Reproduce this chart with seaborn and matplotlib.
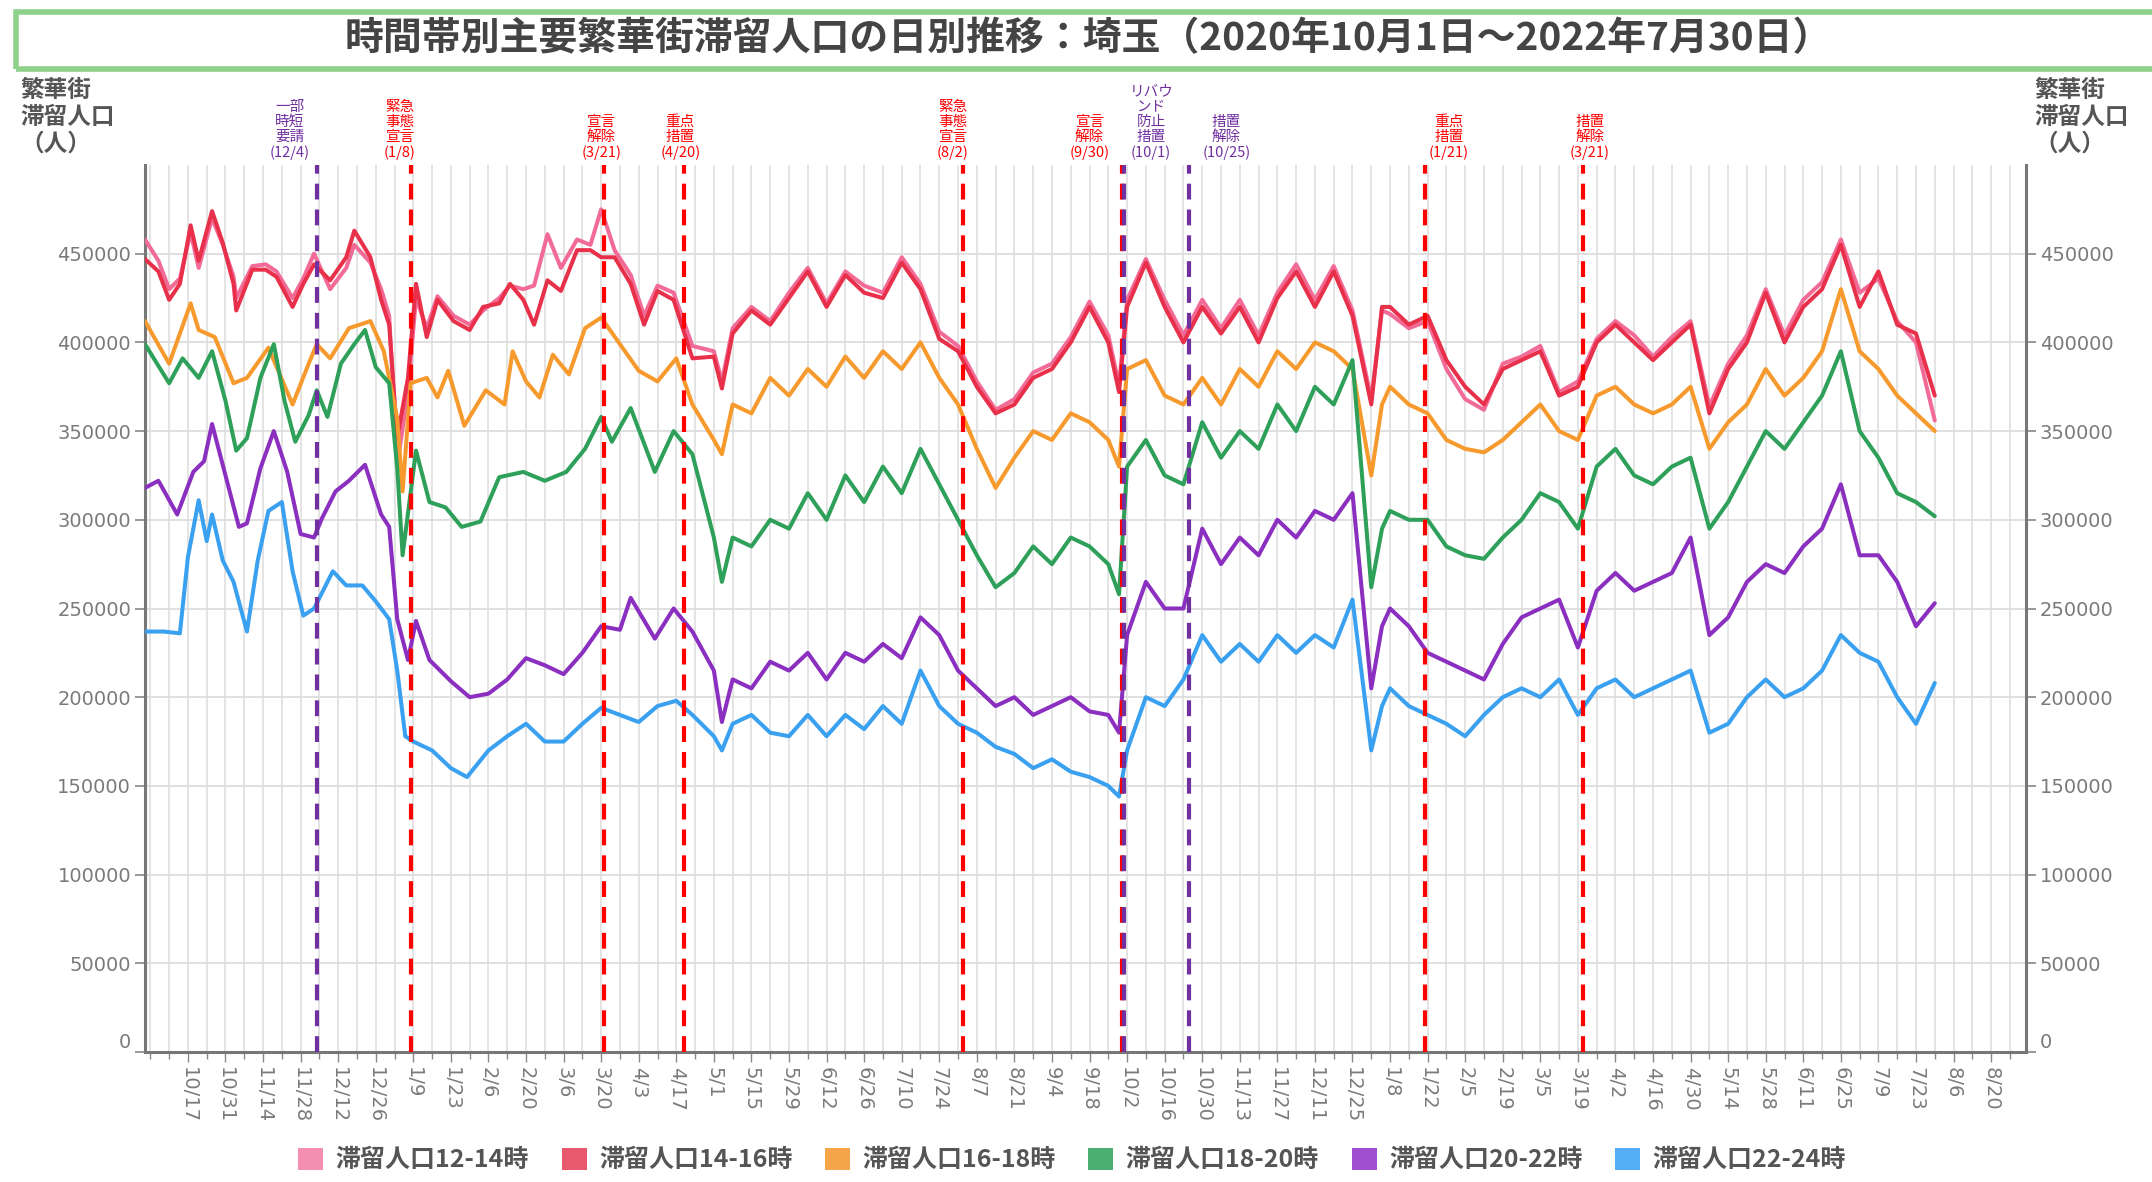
import pandas as pd
import matplotlib
matplotlib.use('Agg')
import matplotlib.pyplot as plt
import matplotlib.transforms as mtransforms
from matplotlib.patches import Rectangle, Patch
import seaborn as sns

sns.set_theme(style="white")
plt.rcParams['font.family'] = ['Noto Sans CJK JP', 'DejaVu Sans']

# 日付は 2020/10/1 からの経過日数、値は千人単位
start = pd.Timestamp('2020-10-01')

# 2021/5/1 以降は週ごと（土曜）に読み取った値
late_days = [212, 215, 219, 226, 233, 240, 247, 254, 261, 268, 275, 282, 289, 296, 303, 310, 317, 324,
             331, 338, 345, 352, 359, 363, 366, 373, 380, 387, 394, 401, 408, 415, 422, 429, 436, 443,
             450, 457, 461, 464, 471, 478, 485, 492, 499, 506, 513, 520, 527, 534, 541, 548, 555, 562,
             569, 576, 583, 590, 597, 604, 611, 618, 625, 632, 639, 646, 653, 660, 667]

pink_days = [0, 5, 9, 13, 17, 20, 25, 29, 33, 34, 40, 45, 49, 55, 59, 63, 69, 75, 78, 84, 88, 91, 94, 98,
             101, 105, 109, 115, 121, 126, 132, 136, 141, 145, 150, 155, 161, 166, 170, 175, 181, 186, 191,
             197, 204] + late_days
pink_vals = [458, 446, 430, 436, 462, 442, 470, 455, 437, 425, 443, 444, 440, 425, 436, 450, 430, 442, 455, 445,
             430, 415, 331, 372, 425, 408, 426, 415, 410, 418, 425, 432, 430, 432, 461, 442, 458, 455, 475, 452,
             438, 415, 432, 428, 398,
             395, 378, 408, 420, 412, 428, 442, 422, 440, 432, 428, 448, 433, 406, 398, 378, 362, 368,
             383, 388, 403, 423, 404, 376, 424, 447, 424, 404, 424, 408, 424, 404, 428, 444, 424, 443,
             418, 368, 418, 416, 408, 412, 385, 368, 362, 388, 392, 398, 372, 378, 402, 412, 404, 392,
             403, 412, 364, 388, 404, 430, 404, 424, 434, 458, 428, 436, 412, 400, 356]

red_days = [0, 5, 9, 13, 17, 20, 25, 29, 33, 34, 40, 45, 49, 55, 59, 63, 69, 75, 78, 84, 88, 91, 94, 98,
            101, 105, 109, 115, 121, 126, 132, 136, 141, 145, 150, 155, 161, 166, 170, 175, 181, 186, 191,
            197, 204] + late_days
red_vals = [447, 440, 424, 433, 466, 446, 474, 456, 433, 418, 441, 441, 437, 420, 433, 444, 435, 448, 463, 448,
            424, 410, 346, 380, 433, 403, 424, 412, 407, 420, 422, 433, 424, 410, 435, 429, 452, 452, 448, 448,
            433, 410, 429, 424, 391,
            392, 374, 405, 418, 410, 425, 440, 420, 438, 428, 425, 445, 430, 402, 395, 375, 360, 365,
            380, 385, 400, 420, 400, 372, 420, 445, 420, 400, 420, 405, 420, 400, 425, 440, 420, 440,
            415, 365, 420, 420, 410, 415, 390, 375, 365, 385, 390, 395, 370, 375, 400, 410, 400, 390,
            400, 410, 360, 385, 400, 428, 400, 420, 430, 455, 420, 440, 410, 405, 370]

orange_days = [0, 9, 17, 20, 26, 33, 38, 46, 55, 61, 64, 69, 76, 84, 89, 94, 96, 99, 105, 109, 113, 119, 127,
               134, 137, 142, 147, 152, 158, 164, 170, 177, 184, 191, 198, 204] + late_days
orange_vals = [412, 388, 422, 407, 403, 377, 380, 397, 365, 388, 399, 391, 408, 412, 395, 357, 316, 377, 380,
               369, 384, 353, 373, 365, 395, 378, 369, 393, 382, 408, 414, 399, 384, 378, 391, 365,
               345, 337, 365, 360, 380, 370, 385, 375, 392, 380, 395, 385, 400, 380, 365, 340, 318, 335,
               350, 345, 360, 355, 345, 330, 385, 390, 370, 365, 380, 365, 385, 375, 395, 385, 400, 395,
               385, 325, 365, 375, 365, 360, 345, 340, 338, 345, 355, 365, 350, 345, 370, 375, 365, 360,
               365, 375, 340, 355, 365, 385, 370, 380, 395, 430, 395, 385, 370, 360, 350]

green_days = [0, 9, 14, 20, 25, 30, 34, 38, 43, 48, 52, 56, 61, 64, 68, 73, 78, 82, 86, 91, 94, 96, 101, 106,
              112, 118, 125, 132, 141, 149, 157, 164, 170, 174, 181, 190, 197, 204] + late_days
green_vals = [399, 377, 391, 380, 395, 367, 339, 346, 380, 399, 367, 344, 359, 373, 358, 388, 399, 407, 386,
              377, 329, 280, 339, 310, 307, 296, 299, 324, 327, 322, 327, 340, 358, 344, 363, 327, 350, 337,
              290, 265, 290, 285, 300, 295, 315, 300, 325, 310, 330, 315, 340, 320, 300, 280, 262, 270,
              285, 275, 290, 285, 275, 258, 330, 345, 325, 320, 355, 335, 350, 340, 365, 350, 375, 365,
              390, 262, 295, 305, 300, 300, 285, 280, 278, 290, 300, 315, 310, 295, 330, 340, 325, 320,
              330, 335, 295, 310, 330, 350, 340, 355, 370, 395, 350, 335, 315, 310, 302]

purple_days = [0, 5, 12, 18, 22, 25, 30, 35, 38, 43, 48, 53, 58, 63, 66, 71, 76, 82, 88, 91, 94, 98, 101, 106,
               114, 121, 128, 135, 142, 149, 156, 163, 170, 177, 181, 190, 197, 204] + late_days
purple_vals = [318, 322, 303, 327, 333, 354, 325, 296, 298, 329, 350, 327, 292, 290, 301, 316, 322, 331, 303,
               296, 244, 221, 243, 221, 209, 200, 202, 210, 222, 218, 213, 225, 240, 238, 256, 233, 250, 237,
               215, 186, 210, 205, 220, 215, 225, 210, 225, 220, 230, 222, 245, 235, 215, 205, 195, 200,
               190, 195, 200, 192, 190, 180, 235, 265, 250, 250, 295, 275, 290, 280, 300, 290, 305, 300,
               315, 205, 240, 250, 240, 225, 220, 215, 210, 230, 245, 250, 255, 228, 260, 270, 260, 265,
               270, 290, 235, 245, 265, 275, 270, 285, 295, 320, 280, 280, 265, 240, 253]

blue_days = [0, 7, 13, 16, 20, 23, 25, 29, 33, 38, 42, 46, 51, 55, 59, 63, 70, 75, 81, 86, 91, 94, 97, 100,
             107, 114, 120, 128, 135, 142, 149, 156, 163, 170, 177, 184, 191, 198, 204] + late_days
blue_vals = [237, 237, 236, 279, 311, 288, 303, 277, 265, 237, 277, 305, 310, 271, 246, 250, 271, 263, 263,
             254, 244, 215, 178, 175, 170, 160, 155, 170, 178, 185, 175, 175, 185, 194, 190, 186, 195, 198, 190,
             178, 170, 185, 190, 180, 178, 190, 178, 190, 182, 195, 185, 215, 195, 185, 180, 172, 168,
             160, 165, 158, 155, 150, 144, 170, 200, 195, 210, 235, 220, 230, 220, 235, 225, 235, 228,
             255, 170, 195, 205, 195, 190, 185, 178, 190, 200, 205, 200, 210, 190, 205, 210, 200, 205,
             210, 215, 180, 185, 200, 210, 200, 205, 215, 235, 225, 220, 200, 185, 208]

series_names = ['滞留人口12-14時', '滞留人口14-16時', '滞留人口16-18時',
                '滞留人口18-20時', '滞留人口20-22時', '滞留人口22-24時']
series_colors = ['#f26b97', '#e8304a', '#f79a2e', '#2ea05a', '#8a2fbf', '#3aa0f0']
legend_colors = ['#f48fb1', '#e8596e', '#f7a54a', '#4caf72', '#a04fd0', '#55aef5']

# 緊急事態宣言などのイベント
event_dates = ['2020-12-04', '2021-01-08', '2021-03-21', '2021-04-20', '2021-08-02',
               '2021-09-30', '2021-10-01', '2021-10-25', '2022-01-21', '2022-03-21']
event_labels = ['一部\n時短\n要請\n(12/4)', '緊急\n事態\n宣言\n(1/8)', '宣言\n解除\n(3/21)',
                '重点\n措置\n(4/20)', '緊急\n事態\n宣言\n(8/2)', '宣言\n解除\n(9/30)',
                'リバウ\nンド\n防止\n措置\n(10/1)', '措置\n解除\n(10/25)', '重点\n措置\n(1/21)',
                '措置\n解除\n(3/21)']
event_kinds = ['p', 'r', 'r', 'r', 'r', 'r', 'p', 'p', 'r', 'r']
label_shift = [-10, -4, -1, -1.5, -4, -12, 10, 14, 9, 2.5]

frames = []
for name, d, v in zip(series_names,
                      [pink_days, red_days, orange_days, green_days, purple_days, blue_days],
                      [pink_vals, red_vals, orange_vals, green_vals, purple_vals, blue_vals]):
    frames.append(pd.DataFrame({
        'date': start + pd.to_timedelta(d, unit='D'),
        'value': [x * 1000 for x in v],
        'series': name,
    }))
df = pd.concat(frames, ignore_index=True)

W, H = 2152, 1182
fig = plt.figure(figsize=(W / 100, H / 100), dpi=100)
ax = fig.add_axes([145 / W, 1 - 1052 / H, (2026 - 145) / W, (1052 - 165) / H])

sns.lineplot(data=df, x='date', y='value', hue='series', hue_order=series_names,
             palette=series_colors, linewidth=2.9, legend=False, ax=ax, zorder=3)

ax.set_xlim(start, pd.Timestamp('2022-09-02'))
ax.set_ylim(0, 500000)
ax.set_xlabel('')
ax.set_ylabel('')

# 軸目盛
major = pd.date_range('2020-10-17', '2022-08-20', freq='14D')
minor = pd.date_range('2020-10-03', '2022-09-01', freq='7D')
ax.set_xticks(major)
ax.set_xticklabels([f'{t.month}/{t.day}' for t in major], rotation=270,
                   fontsize=14, color='#7a7a7a', family='DejaVu Sans')
ax.set_xticks(minor, minor=True)
yt = list(range(0, 450001, 50000))
ax.set_yticks(yt)
ax.set_yticklabels([str(v) for v in yt], fontsize=14, color='#7a7a7a', family='DejaVu Sans')
ax.tick_params(axis='y', which='both', left=True, right=True, labelleft=True, labelright=True,
               length=7, width=1.2, color='#888888', pad=3)
ax.tick_params(axis='x', which='both', bottom=True, length=5, width=1.0, color='#888888', pad=4)
ax.tick_params(axis='x', which='major', length=7)
for lab in ax.get_yticklabels():
    lab.set_family('DejaVu Sans')

# 「0」ラベルは少し上に表示されている
zero_tick = ax.yaxis.get_major_ticks()[0]
shift = mtransforms.ScaledTranslation(0, 12 / 100, fig.dpi_scale_trans)
for lab in (zero_tick.label1, zero_tick.label2):
    lab.set_transform(lab.get_transform() + shift)

ax.grid(axis='y', color='#dddddd', linewidth=1.3, zorder=0)
ax.grid(axis='x', which='both', color='#e2e2e2', linewidth=1.3, zorder=0)
for side in ['left', 'right', 'bottom']:
    ax.spines[side].set_color('#777777')
    ax.spines[side].set_linewidth(2.2)
ax.spines['top'].set_visible(False)

# イベント線とラベル
for dt, lab, kind, sh in zip(event_dates, event_labels, event_kinds, label_shift):
    t = pd.Timestamp(dt)
    col = '#ff0000' if kind == 'r' else '#7030a0'
    ax.axvline(t, color=col, linewidth=3, dashes=(3.8, 2.4), zorder=4)
    ax.text(t + pd.Timedelta(days=sh), 1.006, lab, transform=ax.get_xaxis_transform(),
            ha='center', va='bottom', fontsize=10.5, color=col, linespacing=1.1)

# タイトル枠
fig.patches.append(Rectangle((16 / W, 1 - 69 / H), (2170 - 16) / W, 57 / H,
                             transform=fig.transFigure, fill=False,
                             edgecolor='#8fd08a', linewidth=4))
fig.text(1088 / W, 1 - 39 / H,
         '時間帯別主要繁華街滞留人口の日別推移：埼玉（2020年10月1日～2022年7月30日）',
         ha='center', va='center', fontsize=28, fontweight='bold', color='#444444')

# 軸タイトル
ytitle = '繁華街\n滞留人口\n（人）'
fig.text(20 / W, 1 - 78 / H, ytitle, ha='left', va='top', fontsize=17,
         fontweight='bold', color='#555555', linespacing=1.15)
fig.text(2034 / W, 1 - 78 / H, ytitle, ha='left', va='top', fontsize=17,
         fontweight='bold', color='#555555', linespacing=1.15)

# 凡例
handles = [Patch(facecolor=c, edgecolor='none', label=n) for n, c in zip(series_names, legend_colors)]
leg = fig.legend(handles=handles, loc='center', bbox_to_anchor=(1072 / W, 1 - 1160 / H), ncol=6,
                 frameon=False, handlelength=1.0, handleheight=1.0, handletextpad=0.5,
                 columnspacing=1.3, prop={'size': 18, 'weight': 'bold'})
for txt in leg.get_texts():
    txt.set_color('#555555')

fig.savefig('out.png', dpi=100)
